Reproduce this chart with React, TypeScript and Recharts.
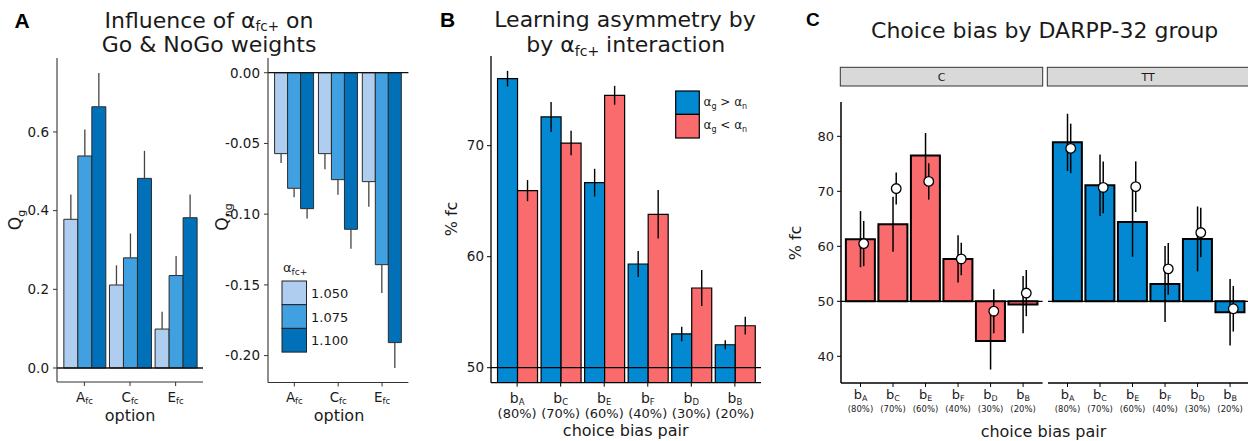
import React from 'react';
import { BarChart, Bar, XAxis, YAxis, ErrorBar, ReferenceLine, ComposedChart, Scatter } from 'recharts';

const FONT = 'DejaVu Sans, Verdana, sans-serif';
const BOLD = 'Liberation Sans, Arial, sans-serif';
const INK = '#1a1a1a';

// ---------- Panel A data ----------
const optionLetters = ['A', 'C', 'E'];
const alphaLevels = ['1.050', '1.075', '1.100'];
const alphaColors = ['#aecdef', '#41a0e0', '#0070b8'];
const qg1050 = [0.378, 0.211, 0.099];
const qg1075 = [0.539, 0.280, 0.235];
const qg1100 = [0.664, 0.482, 0.382];
const qgErr1050 = [0.063, 0.050, 0.044];
const qgErr1075 = [0.067, 0.062, 0.050];
const qgErr1100 = [0.086, 0.070, 0.059];
const qng1050 = [-0.0572, -0.0572, -0.077];
const qng1075 = [-0.0817, -0.0756, -0.1357];
const qng1100 = [-0.0961, -0.1107, -0.1908];
const qngErr1050 = [0.0066, 0.011, 0.0177];
const qngErr1075 = [0.0064, 0.0106, 0.020];
const qngErr1100 = [0.007, 0.0137, 0.018];
const qgTicks = [0, 0.2, 0.4, 0.6];
const qngTicks = [0, -0.05, -0.1, -0.15, -0.2];

// ---------- Panel B data ----------
const pairLetters = ['A', 'C', 'E', 'F', 'D', 'B'];
const pairPercents = ['80%', '70%', '60%', '40%', '30%', '20%'];
const fcGoHigher = [76.04, 72.59, 66.67, 59.34, 53.04, 52.07];
const fcGoHigherErr = [0.7, 1.35, 1.25, 1.17, 0.65, 0.4];
const fcNoGoHigher = [65.95, 70.24, 74.54, 63.82, 57.18, 53.78];
const fcNoGoHigherErr = [0.95, 1.1, 0.85, 2.18, 1.62, 0.8];
const bTicks = [50, 60, 70];

// ---------- Panel C data ----------
const cBar = [61.3, 64.0, 76.5, 57.7, 42.8, 49.4];
const cBarErr = [5.1, 5.0, 4.1, 4.3, 5.2, 5.2];
const cPoint = [60.5, 70.5, 71.8, 57.7, 48.2, 51.5];
const cPointErr = [4.1, 2.9, 3.3, 2.95, 4.0, 4.2];
const ttBar = [78.9, 71.1, 64.4, 53.15, 61.35, 48.0];
const ttBarErr = [5.2, 5.6, 6.3, 6.9, 5.9, 6.05];
const ttPoint = [77.8, 70.7, 70.85, 55.9, 62.5, 48.65];
const ttPointErr = [4.5, 4.7, 4.6, 4.7, 4.5, 4.15];
const cTicks = [40, 50, 60, 70, 80];

const BLUE = '#0389d2';
const RED = '#f96b6c';

const aLeftData = optionLetters.map((c, i) => ({
  cat: c,
  v0: qg1050[i], v1: qg1075[i], v2: qg1100[i],
  e0: [0, qgErr1050[i]], e1: [0, qgErr1075[i]], e2: [0, qgErr1100[i]],
}));
const aRightData = optionLetters.map((c, i) => ({
  cat: c,
  v0: qng1050[i], v1: qng1075[i], v2: qng1100[i],
  e0: [qngErr1050[i], 0], e1: [qngErr1075[i], 0], e2: [qngErr1100[i], 0],
}));
const bData = pairLetters.map((c, i) => ({
  cat: c, go: fcGoHigher[i], goE: fcGoHigherErr[i], nogo: fcNoGoHigher[i], nogoE: fcNoGoHigherErr[i],
}));
const makeFacet = (bars: number[], barErr: number[], pts: number[], ptErr: number[]) =>
  pairLetters.map((c, i) => ({
    cat: c,
    range: [Math.min(50, bars[i]), Math.max(50, bars[i])],
    bar: bars[i], barErr: barErr[i], pt: pts[i], ptErr: ptErr[i],
  }));
const cData = makeFacet(cBar, cBarErr, cPoint, cPointErr);
const ttData = makeFacet(ttBar, ttBarErr, ttPoint, ttPointErr);

function frame(l: number, t: number, r: number, b: number, yw: number, xh: number) {
  const mT = 10, mR = 10;
  return {
    style: { position: 'absolute' as const, left: l - yw, top: t - mT },
    width: r - l + yw + mR,
    height: b - t + xh + mT,
    margin: { top: mT, right: mR, left: 0, bottom: 0 },
  };
}

const OptionTick = (p: any) => (
  <text x={p.x} y={p.y + 13.5} textAnchor="middle" fontFamily={FONT} fontSize={13.5} fill={INK}>
    {p.payload.value}
    <tspan fontSize={8.5} dy={2.5}>fc</tspan>
  </text>
);

const makePairTick = (main: number, sub: number, pct: number, dMain: number, dPct: number, subDy: number) => (p: any) => {
  const i = pairLetters.indexOf(p.payload.value);
  return (
    <g>
      <text x={p.x} y={p.y + dMain} textAnchor="middle" fontFamily={FONT} fontSize={main} fill={INK}>
        b<tspan fontSize={sub} dy={subDy}>{p.payload.value}</tspan>
      </text>
      <text x={p.x} y={p.y + dPct} textAnchor="middle" fontFamily={FONT} fontSize={pct} fill={INK}>
        ({pairPercents[i]})
      </text>
    </g>
  );
};
const BTick = makePairTick(14, 8.5, 13, 14.3, 29.2, 2.2);
const CTick = makePairTick(13, 8, 8.5, 10.3, 22.8, 2.2);

const PointShape = (p: any) => (
  <circle cx={p.cx} cy={p.cy} r={4.8} fill="#ffffff" stroke="#000" strokeWidth={1.3} />
);
const NoShape = () => <g />;

function PanelALeft() {
  const f = frame(57, 58, 203, 382, 57, 55);
  return (
    <div style={f.style}>
      <BarChart width={f.width} height={f.height} margin={f.margin} data={aLeftData} barGap={0} barCategoryGap="5%">
        <XAxis dataKey="cat" type="category" padding={{ left: 4.56, right: 4.56 }} height={55} tickSize={4}
          interval={0} axisLine={{ stroke: '#333', strokeWidth: 1.1 }} tickLine={{ stroke: '#333' }} tick={<OptionTick />} />
        <YAxis type="number" domain={[-0.0356, 0.788]} allowDataOverflow ticks={qgTicks} width={57} tickSize={4} tickMargin={4}
          tickFormatter={(v: number) => v.toFixed(1)} axisLine={{ stroke: '#333', strokeWidth: 1.1 }} tickLine={{ stroke: '#333' }}
          tick={{ fill: INK, fontSize: 13.5, fontFamily: FONT }} />
        <ReferenceLine y={0} stroke="#111" strokeWidth={1.3} />
        {[0, 1, 2].map((k) => (
          <Bar key={k} dataKey={`v${k}`} fill={alphaColors[k]} stroke="#2b2b2b" strokeWidth={1} isAnimationActive={false}>
            <ErrorBar dataKey={`e${k}`} width={0} stroke="#444" strokeWidth={1.3} />
          </Bar>
        ))}
      </BarChart>
    </div>
  );
}

function PanelARight() {
  const f = frame(268.3, 58, 408.7, 382.5, 50, 55);
  return (
    <div style={f.style}>
      <BarChart width={f.width} height={f.height} margin={f.margin} data={aRightData} barGap={0} barCategoryGap="5%">
        <XAxis dataKey="cat" type="category" padding={{ left: 4.39, right: 4.39 }} height={55} tickSize={4}
          interval={0} axisLine={{ stroke: '#333', strokeWidth: 1.1 }} tickLine={{ stroke: '#333' }} tick={<OptionTick />} />
        <YAxis type="number" domain={[-0.219, 0.0104]} allowDataOverflow ticks={qngTicks} width={50} tickSize={4} tickMargin={4}
          tickFormatter={(v: number) => v.toFixed(2)} axisLine={{ stroke: '#333', strokeWidth: 1.1 }} tickLine={{ stroke: '#333' }}
          tick={{ fill: INK, fontSize: 13.5, fontFamily: FONT }} />
        <ReferenceLine y={0} stroke="#111" strokeWidth={1.3} />
        {[0, 1, 2].map((k) => (
          <Bar key={k} dataKey={`v${k}`} fill={alphaColors[k]} stroke="#2b2b2b" strokeWidth={1} isAnimationActive={false}>
            <ErrorBar dataKey={`e${k}`} width={0} stroke="#444" strokeWidth={1.3} />
          </Bar>
        ))}
      </BarChart>
    </div>
  );
}

function PanelB() {
  const f = frame(490.7, 56, 760.7, 382.7, 45, 58);
  return (
    <div style={f.style}>
      <BarChart width={f.width} height={f.height} margin={f.margin} data={bData} barGap={0} barCategoryGap="5%">
        <XAxis dataKey="cat" type="category" padding={{ left: 4.35, right: 4.35 }} height={58} tickSize={4}
          interval={0} axisLine={{ stroke: '#000', strokeWidth: 1.3 }} tickLine={{ stroke: '#000' }} tick={<BTick />} />
        <YAxis type="number" domain={[48.65, 78.08]} allowDataOverflow ticks={bTicks} width={45} tickSize={4} tickMargin={3}
          axisLine={{ stroke: '#000', strokeWidth: 1.3 }} tickLine={{ stroke: '#000' }}
          tick={{ fill: INK, fontSize: 13.5, fontFamily: FONT }} />
        <ReferenceLine y={50} stroke="#000" strokeWidth={1.3} />
        <Bar dataKey="go" fill={BLUE} stroke="#000" strokeWidth={1.2} isAnimationActive={false}>
          <ErrorBar dataKey="goE" width={0} stroke="#000" strokeWidth={1.4} />
        </Bar>
        <Bar dataKey="nogo" fill={RED} stroke="#000" strokeWidth={1.2} isAnimationActive={false}>
          <ErrorBar dataKey="nogoE" width={0} stroke="#000" strokeWidth={1.4} />
        </Bar>
      </BarChart>
    </div>
  );
}

function Facet({ data, color, l, r, showY }: { data: any[]; color: string; l: number; r: number; showY: boolean }) {
  const yw = showY ? 45 : 0;
  const f = frame(l, 101.7, r, 382.7, yw, 55);
  return (
    <div style={f.style}>
      <ComposedChart width={f.width} height={f.height} margin={f.margin} data={data} barGap={0} barCategoryGap="5%">
        <XAxis xAxisId="bars" dataKey="cat" type="category" padding={{ left: 3.25, right: 3.25 }} height={55} tickSize={4}
          interval={0} axisLine={{ stroke: '#000', strokeWidth: 1.5 }} tickLine={{ stroke: '#000' }} tick={<CTick />} />
        <XAxis xAxisId="pts" dataKey="cat" type="category" hide padding={{ left: 6.45, right: 0.05 }} />
        <YAxis type="number" domain={[35.15, 86.24]} allowDataOverflow ticks={cTicks} width={yw} hide={!showY} tickSize={4}
          tickMargin={3} axisLine={{ stroke: '#000', strokeWidth: 1.5 }} tickLine={{ stroke: '#000' }}
          tick={{ fill: INK, fontSize: 13, fontFamily: FONT }} />
        <Bar xAxisId="bars" dataKey="range" fill={color} stroke="#000" strokeWidth={2} isAnimationActive={false} />
        <ReferenceLine xAxisId="bars" y={50} stroke="#000" strokeWidth={1.3} />
        <Scatter xAxisId="bars" dataKey="bar" shape={NoShape} isAnimationActive={false}>
          <ErrorBar dataKey="barErr" direction="y" width={0} stroke="#000" strokeWidth={1.5} />
        </Scatter>
        <Scatter xAxisId="pts" dataKey="pt" shape={PointShape} isAnimationActive={false}>
          <ErrorBar dataKey="ptErr" direction="y" width={0} stroke="#000" strokeWidth={1.5} />
        </Scatter>
      </ComposedChart>
    </div>
  );
}

function Overlay() {
  return (
    <svg width={1248} height={441} style={{ position: 'absolute', left: 0, top: 0, pointerEvents: 'none' }}
      fontFamily={FONT} fill={INK}>
      {/* Panel letters */}
      <text x={14.5} y={27.7} fontFamily={BOLD} fontWeight="bold" fontSize={21} fill="#000">A</text>
      <text x={440} y={26.7} fontFamily={BOLD} fontWeight="bold" fontSize={21} fill="#000">B</text>
      <text x={806} y={26} fontFamily={BOLD} fontWeight="bold" fontSize={19} fill="#000">C</text>

      {/* Panel A */}
      <text x={209} y={27.5} textAnchor="middle" fontSize={22}>
        Influence of α<tspan fontSize={13.5} dy={3}>fc+</tspan><tspan dy={-3}> on</tspan>
      </text>
      <text x={209} y={52} textAnchor="middle" fontSize={22}>Go &amp; NoGo weights</text>
      <text transform="translate(21,220) rotate(-90)" textAnchor="middle" fontSize={17}>
        Q<tspan fontSize={11} dy={4}>g</tspan>
      </text>
      <text transform="translate(228,217) rotate(-90)" textAnchor="middle" fontSize={17}>
        Q<tspan fontSize={11} dy={4}>ng</tspan>
      </text>
      <text x={130} y={421} textAnchor="middle" fontSize={16}>option</text>
      <text x={339} y={421} textAnchor="middle" fontSize={16}>option</text>
      <text x={283} y={272} fontSize={13}>
        α<tspan fontSize={9} dy={3}>fc+</tspan>
      </text>
      {alphaLevels.map((lv, k) => (
        <g key={lv}>
          <rect x={282} y={281 + k * 23.7} width={24.5} height={23.7} fill={alphaColors[k]} stroke="#222" strokeWidth={1} />
          <text x={311} y={298 + k * 23.7} fontSize={13}>{lv}</text>
        </g>
      ))}

      {/* Panel B */}
      <text x={625} y={26.7} textAnchor="middle" fontSize={22}>Learning asymmetry by</text>
      <text x={625.7} y={51.5} textAnchor="middle" fontSize={22}>
        by α<tspan fontSize={14} dy={4}>fc+</tspan><tspan dy={-4}> interaction</tspan>
      </text>
      <text transform="translate(457,219) rotate(-90)" textAnchor="middle" fontSize={16}>% fc</text>
      <text x={625.7} y={436} textAnchor="middle" fontSize={16}>choice bias pair</text>
      <rect x={675.7} y={91} width={23.6} height={23.4} fill={BLUE} stroke="#000" strokeWidth={1.2} />
      <rect x={675.7} y={114.4} width={23.6} height={23.6} fill={RED} stroke="#000" strokeWidth={1.2} />
      <text x={703.5} y={105.5} fontSize={12}>
        α<tspan fontSize={8} dy={3}>g</tspan><tspan dy={-3}> &gt; α</tspan><tspan fontSize={8} dy={3}>n</tspan>
      </text>
      <text x={703.5} y={129} fontSize={12}>
        α<tspan fontSize={8} dy={3}>g</tspan><tspan dy={-3}> &lt; α</tspan><tspan fontSize={8} dy={3}>n</tspan>
      </text>

      {/* Panel C */}
      <text x={1044.7} y={38.3} textAnchor="middle" fontSize={22}>Choice bias by DARPP-32 group</text>
      <rect x={840.3} y={67.3} width={202.4} height={18.7} fill="#d9d9d9" stroke="#333" strokeWidth={1} />
      <rect x={1047.3} y={67.3} width={203} height={18.7} fill="#d9d9d9" stroke="#333" strokeWidth={1} />
      <text x={941.5} y={80.5} textAnchor="middle" fontSize={11}>C</text>
      <text x={1148} y={80.5} textAnchor="middle" fontSize={11}>TT</text>
      <text transform="translate(801,243) rotate(-90)" textAnchor="middle" fontSize={16}>% fc</text>
      <text x={1043.5} y={437} textAnchor="middle" fontSize={16}>choice bias pair</text>
    </svg>
  );
}

export default function App() {
  return (
    <div style={{ position: 'absolute', left: 0, top: 0, width: 1248, height: 441, overflow: 'hidden', background: '#fff' }}>
      <PanelALeft />
      <PanelARight />
      <PanelB />
      <Facet data={cData} color={RED} l={840.7} r={1042.3} showY={true} />
      <Facet data={ttData} color={BLUE} l={1048.4} r={1250} showY={false} />
      <Overlay />
    </div>
  );
}
